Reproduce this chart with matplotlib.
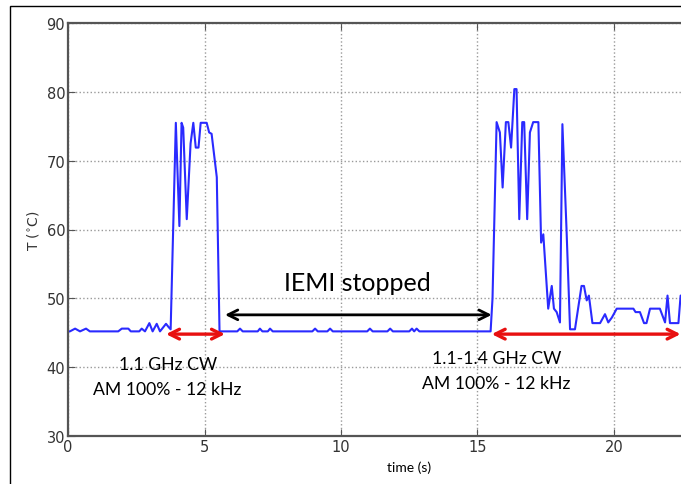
import matplotlib
matplotlib.use("Agg")
import matplotlib.pyplot as plt
from matplotlib.patches import Rectangle

# temperature trace (time in s, T in degC)
t_on1 = [0.0, 0.07, 0.26, 0.44, 0.66, 0.8, 1.84, 1.97, 2.21, 2.3, 2.61, 2.7, 2.82,
         2.98, 3.1, 3.25, 3.37, 3.59, 3.69, 3.76,
         3.95, 4.08, 4.16, 4.22, 4.35, 4.49, 4.59, 4.68, 4.78, 4.86, 5.08, 5.17,
         5.26, 5.45, 5.55]
T_on1 = [45.2, 45.2, 45.6, 45.2, 45.6, 45.2, 45.2, 45.6, 45.6, 45.2, 45.2, 45.6, 45.2,
         46.4, 45.2, 46.3, 45.2, 46.3, 45.8, 45.5,
         75.5, 60.5, 75.5, 74.8, 61.5, 72.5, 75.5, 71.9, 71.9, 75.5, 75.5, 74.1,
         73.9, 67.6, 45.2]

t_off = [5.65, 6.2, 6.3, 6.4, 6.95, 7.03, 7.12, 7.32, 7.4, 7.5, 8.95, 9.05, 9.15,
         9.5, 9.6, 9.7, 10.96, 11.06, 11.16, 11.7, 11.8, 11.9, 12.5, 12.6, 12.68,
         12.77, 12.87, 15.48]
T_off = [45.2, 45.2, 45.6, 45.2, 45.2, 45.6, 45.2, 45.2, 45.6, 45.2, 45.2, 45.6, 45.2,
         45.2, 45.6, 45.2, 45.2, 45.6, 45.2, 45.2, 45.6, 45.2, 45.2, 45.6, 45.2,
         45.6, 45.2, 45.2]

t_on2 = [15.55, 15.70, 15.82, 15.92, 16.04, 16.13, 16.23, 16.35, 16.43, 16.53, 16.64,
         16.71, 16.82, 16.92, 17.04, 17.23, 17.33, 17.41, 17.59, 17.72, 17.80, 17.90,
         18.02, 18.11, 18.26, 18.39, 18.57, 18.81, 18.90, 19.00, 19.08, 19.21, 19.49,
         19.67, 19.79, 19.92, 20.10, 20.71, 20.79, 20.95, 21.10, 21.19, 21.32, 21.68,
         21.87, 21.96, 22.05, 22.36, 22.44, 22.6]
T_on2 = [50.0, 75.6, 74.1, 66.1, 75.6, 75.6, 71.9, 80.4, 80.4, 61.5, 75.6,
         75.6, 61.5, 74.1, 75.6, 75.6, 58.1, 59.3, 48.5, 51.8, 48.5, 48.0,
         46.5, 75.3, 60.1, 45.5, 45.5, 51.8, 51.8, 49.7, 50.4, 46.4, 46.4,
         47.7, 46.5, 47.2, 48.5, 48.5, 48.0, 48.0, 46.4, 46.4, 48.5, 48.5,
         46.5, 50.4, 46.4, 46.4, 50.4, 50.4]

time = t_on1 + t_off + t_on2
temp = T_on1 + T_off + T_on2

xticks = [0, 5, 10, 15, 20]
yticks = [30, 40, 50, 60, 70, 80, 90]

# annotation spans
span1 = (3.59, 5.75)
span_off = (5.75, 15.52)
span2 = (15.52, 22.44)


def main():
    fig = plt.figure(figsize=(6.81, 4.85), dpi=100)
    # axes runs past the right edge of the picture, as in the reference crop
    ax = fig.add_axes([68 / 681, 48 / 485, 682.5 / 681, 413 / 485])
    ax.plot(time, temp, color="#2a2aff", lw=1.5)

    ax.set_xlim(0, 25)
    ax.set_ylim(30, 90)
    ax.set_xticks(xticks)
    ax.set_yticks(yticks)
    ax.grid(True, linestyle=":", color="#9a9a9a", lw=1)
    ax.tick_params(direction="in", top=True, right=True, length=5,
                   labelsize=10.5, labelcolor="#333333", color="#555555", pad=2)
    for s in ax.spines.values():
        s.set_color("#555555")
        s.set_linewidth(1.6)
    ax.set_ylabel("T ($^{\\circ}$C)", fontsize=10, color="#333333", labelpad=4)
    ax.set_xlabel("time (s)", fontsize=10, family="Lato", labelpad=5)

    # red spans for the two exposures, black one for the pause
    red = dict(arrowstyle="<->,head_length=0.7,head_width=0.35", color="#e81010",
               lw=2.4, shrinkA=0, shrinkB=0)
    black = dict(arrowstyle="<->,head_length=0.7,head_width=0.35", color="black",
                 lw=2.0, shrinkA=0, shrinkB=0)
    ax.annotate("", xy=(span1[0], 44.8), xytext=(span1[1], 44.8), arrowprops=red)
    ax.annotate("", xy=(span2[0], 44.8), xytext=(span2[1], 44.8), arrowprops=red,
                annotation_clip=False)
    ax.annotate("", xy=(span_off[0], 47.6), xytext=(span_off[1], 47.6), arrowprops=black)

    ax.text(10.6, 52.3, "IEMI stopped", fontsize=18, family="Lato", ha="center", va="center")
    ax.text(3.65, 40.4, "1.1 GHz CW", fontsize=12.7, family="Lato", ha="center", va="center")
    ax.text(3.65, 36.8, "AM 100% - 12 kHz", fontsize=12.7, family="Lato", ha="center", va="center")
    ax.text(15.7, 41.4, "1.1-1.4 GHz CW", fontsize=12.7, family="Lato", ha="center", va="center")
    ax.text(15.7, 37.7, "AM 100% - 12 kHz", fontsize=12.7, family="Lato", ha="center", va="center")

    # thin border round the pasted picture (left and top visible)
    fig.add_artist(Rectangle((10 / 681, -0.1), 1.2, (485 - 7) / 485 + 0.1,
                             transform=fig.transFigure, fill=False,
                             edgecolor="black", lw=1.0))

    fig.savefig("out.png", dpi=100)
    plt.close(fig)


if __name__ == "__main__":
    main()
